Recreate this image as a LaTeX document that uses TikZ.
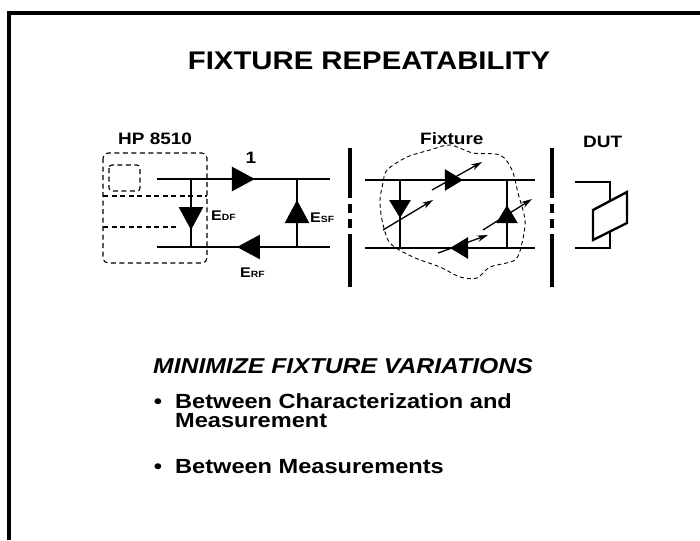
\documentclass[tikz,border=0pt]{standalone}
\usepackage{fontspec}
\setmainfont{Liberation Sans}[FakeStretch=1.15]
\usetikzlibrary{arrows.meta,decorations.markings}
\newcommand\esub[1]{\raisebox{-0.5pt}{\fontsize{9}{9}\selectfont #1}}
\begin{document}
\begin{tikzpicture}[x=1pt,y=-1pt,
  wire/.style={line width=2.6pt},
  tri/.style={postaction={decorate},decoration={markings,mark=at position #1 with {\arrow{Triangle[length=23pt,width=24pt]}}}},
  stri/.style={postaction={decorate},decoration={markings,mark=at position #1 with {\arrow{Triangle[length=18pt,width=21pt]}}}},
  sep/.style={line width=3.5pt,dash pattern=on 50pt off 6pt on 9pt off 6pt on 9pt off 6pt on 60pt},
  dsh/.style={line width=1.1pt,dash pattern=on 5pt off 3.5pt},
  ray/.style={line width=1.3pt,-{Stealth[length=11pt,width=6.5pt]}},
  lbl/.style={font=\bfseries\fontsize{16.5}{18}\selectfont, inner sep=0pt},
  elbl/.style={font=\bfseries\fontsize{14}{16}\selectfont, inner sep=0pt},
  btxt/.style={font=\bfseries\fontsize{20.5}{22}\selectfont, inner sep=0pt}]
\useasboundingbox (0,0) rectangle (700,540);
% frame
\draw[line width=4pt] (9,540) -- (9,13) -- (700,13);
% title
\node[anchor=base, font=\bfseries\fontsize{25.5}{30}\selectfont, inner sep=0pt] (title) at (369,70) {FIXTURE REPEATABILITY};
% HP 8510
\node[lbl, anchor=base west] (hp) at (118,145) {HP 8510};
\draw[dsh, rounded corners=5pt] (103,153) rectangle (207,263);
\draw[dsh, rounded corners=3pt] (109,165) rectangle (140,191);
\draw[dsh] (103,196) -- (207,196);
\draw[dsh] (103,227) -- (178,227);
\coordinate (a1) at (157,179); \coordinate (a2) at (330,179);
\coordinate (b1) at (157,247); \coordinate (b2) at (330,247);
\coordinate (d1) at (191,179); \coordinate (d2) at (191,247);
\coordinate (s1) at (297,179); \coordinate (s2) at (297,247);
\draw[wire, tri=0.566] (a1) -- (a2);
\draw[wire, tri=0.538] (b2) -- (b1);
\draw[wire, tri=0.75] (d1) -- (d2);
\draw[wire, tri=0.69] (s2) -- (s1);
\node[lbl, anchor=base] (one) at (251,163) {1};
\node[elbl, anchor=base west] (edf) at (211,220) {E\esub{DF}};
\node[elbl, anchor=base west] (esf) at (310,222) {E\esub{SF}};
\node[elbl, anchor=base west] (erf) at (240,277) {E\esub{RF}};
% separators
\coordinate (p1t) at (350,148); \coordinate (p1b) at (350,287);
\coordinate (p2t) at (552,148); \coordinate (p2b) at (552,287);
\draw[sep] (p1t) -- (p1b);
\draw[sep] (p2t) -- (p2b);
% fixture
\node[lbl, anchor=base west] (fx) at (420,145) {Fixture};
\draw[line width=0.9pt, dash pattern=on 4pt off 3pt] plot[smooth cycle] coordinates {
 (387,170) (407,157) (430,150) (450,145) (473,153) (500,155) (512,170) (518,193)
 (525,220) (522,243) (515,260) (490,267) (477,278) (460,277) (440,267) (413,257)
 (390,243) (382,220) (380,200) (383,183)};
\coordinate (f1) at (365,180); \coordinate (f2) at (535,180);
\coordinate (g1) at (365,248); \coordinate (g2) at (535,248);
\coordinate (h1) at (400,180); \coordinate (h2) at (400,248);
\coordinate (k1) at (507,180); \coordinate (k2) at (507,248);
\draw[wire, stri=0.576] (f1) -- (f2);
\draw[wire, stri=0.5] (g2) -- (g1);
\draw[wire, stri=0.56] (h1) -- (h2);
\draw[wire, stri=0.63] (k2) -- (k1);
\coordinate (r1a) at (432,190); \coordinate (r1b) at (482,162);
\coordinate (r2a) at (383,230); \coordinate (r2b) at (433,200);
\coordinate (r3a) at (483,230); \coordinate (r3b) at (532,199);
\coordinate (r4a) at (438,253); \coordinate (r4b) at (488,235);
\draw[ray] (r1a) -- (r1b);
\draw[ray] (r2a) -- (r2b);
\draw[ray] (r3a) -- (r3b);
\draw[ray] (r4a) -- (r4b);
% DUT
\node[lbl, anchor=base west] (dut) at (583,147) {DUT};
\draw[line width=2.4pt] (575,182) -- (610,182) -- (610,201);
\draw[line width=2.4pt] (575,248) -- (610,248) -- (610,231);
\draw[line width=2.4pt, line join=miter] (593,210) -- (627,192) -- (627,223) -- (593,240) -- cycle;
% bottom text
\node[anchor=base west, font=\bfseries\itshape\fontsize{21.5}{24}\selectfont, inner sep=0pt] (min) at (153,373) {MINIMIZE FIXTURE VARIATIONS};
\node[btxt, anchor=base] (bu1) at (158,408) {•};
\node[btxt, anchor=base west] (t1) at (175,408) {Between Characterization and};
\node[btxt, anchor=base west] (t1b) at (175,427) {Measurement};
\node[btxt, anchor=base] (bu2) at (158,473) {•};
\node[btxt, anchor=base west] (t2) at (175,473) {Between Measurements};
\end{tikzpicture}
\end{document}
